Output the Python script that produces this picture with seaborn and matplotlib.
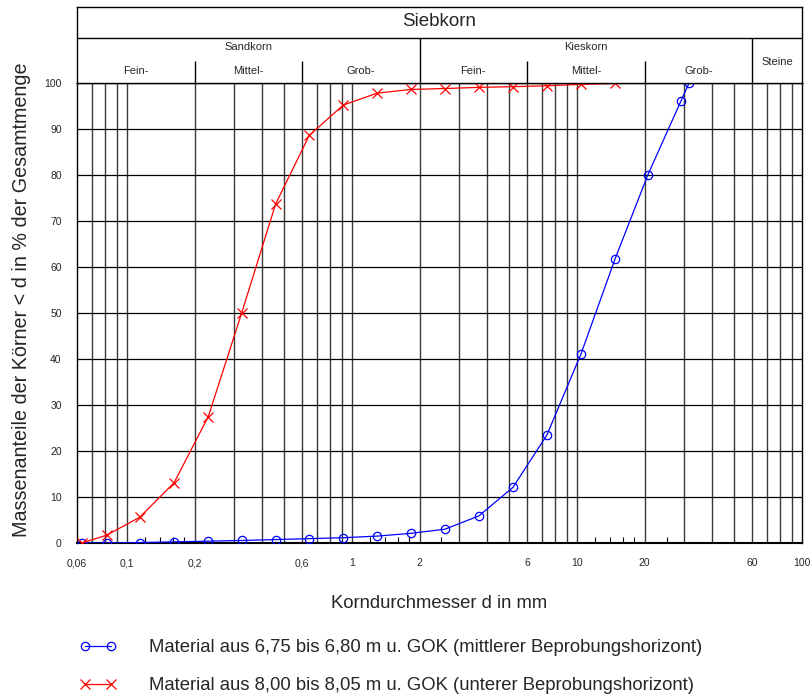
import numpy as np
import pandas as pd
import matplotlib
matplotlib.use("Agg")
import matplotlib.pyplot as plt
from matplotlib.lines import Line2D
import seaborn as sns

# ---------------- data ----------------
blue_d = [0.063, 0.0813, 0.114, 0.162, 0.23, 0.3235, 0.458, 0.646, 0.915, 1.295,
          1.83, 2.59, 3.668, 5.195, 7.356, 10.42, 14.75, 20.68, 28.99, 31.5]
blue_p = [0.0, 0.0, 0.1, 0.25, 0.4, 0.55, 0.75, 0.95, 1.15, 1.5,
          2.1, 3.0, 5.9, 12.1, 23.5, 41.1, 61.7, 80.1, 96.1, 100.0]
red_d = [0.063, 0.0813, 0.114, 0.162, 0.23, 0.3235, 0.458, 0.646, 0.915, 1.295,
         1.83, 2.59, 3.668, 5.195, 7.356, 10.42, 14.75, 16.0]
red_p = [0.0, 1.7, 5.6, 13.1, 27.5, 50.0, 73.7, 88.6, 95.2, 97.8,
         98.6, 98.8, 99.05, 99.2, 99.4, 99.7, 99.9, 100.0]

blue_label = "Material aus 6,75 bis 6,80 m u. GOK (mittlerer Beprobungshorizont)"
red_label = "Material aus 8,00 bis 8,05 m u. GOK (unterer Beprobungshorizont)"

xtick_vals = [0.06, 0.1, 0.2, 0.6, 1, 2, 6, 10, 20, 60, 100]
xtick_labels = ["0,06", "0,1", "0,2", "0,6", "1", "2", "6", "10", "20", "60", "100"]
ytick_vals = [0, 10, 20, 30, 40, 50, 60, 70, 80, 90, 100]

grid_x = [0.07, 0.08, 0.09, 0.1,
          0.2, 0.3, 0.4, 0.5, 0.6, 0.7, 0.8, 0.9, 1.0,
          2, 3, 4, 5, 6, 7, 8, 9, 10,
          20, 30, 40, 50, 60, 70, 80, 90]
minor_x = [0.12, 0.14, 0.16, 0.18, 1.2, 1.4, 1.6, 1.8, 2.5, 12, 14, 16, 18, 25]

main_groups = ["Sandkorn", "Kieskorn", "Steine"]
main_bounds = [0.06, 2, 60, 100]
sub_groups = ["Fein-", "Mittel-", "Grob-", "Fein-", "Mittel-", "Grob-"]
sub_bounds = [0.06, 0.2, 0.6, 2, 6, 20, 60]

# ---------------- style ----------------
sns.set_style("white")
plt.rcParams["font.family"] = ["Liberation Sans", "DejaVu Sans"]

W, H = 810, 695
fig = plt.figure(figsize=(W / 100, H / 100), dpi=100)

L, R, T, B = 77, 802, 83, 543
HT = 7
ax = fig.add_axes([L / W, 1 - B / H, (R - L) / W, (B - T) / H])
hax = fig.add_axes([L / W, 1 - T / H, (R - L) / W, (T - HT) / H])

ax.set_xscale("log")
ax.set_xlim(0.06, 100)
ax.set_ylim(0, 100)

# grid
ax.vlines(grid_x, 0, 100, colors="#3a3a3a", linewidth=1.0, zorder=1)
ax.hlines(ytick_vals[1:-1], 0.06, 100, colors="black", linewidth=0.9, zorder=1)

# curves
df_blue = pd.DataFrame({"d": blue_d, "p": blue_p})
df_red = pd.DataFrame({"d": red_d, "p": red_p})
sns.lineplot(data=df_blue, x="d", y="p", ax=ax, color="#0000ff", linewidth=0.9,
             marker="o", markersize=6, markerfacecolor="none",
             markeredgecolor="#0000ff", markeredgewidth=0.9,
             estimator=None, sort=False, zorder=3)
sns.lineplot(data=df_red, x="d", y="p", ax=ax, color="#ff0000", linewidth=0.9,
             marker="x", markersize=7, markeredgecolor="#ff0000", markeredgewidth=0.9,
             markevery=list(range(len(red_d) - 1)),
             estimator=None, sort=False, zorder=4)

ax.set_xticks(xtick_vals)
ax.set_xticklabels(xtick_labels)
ax.set_xticks(minor_x, minor=True)
ax.xaxis.set_minor_formatter(plt.NullFormatter())
ax.set_yticks(ytick_vals)
ax.set_yticklabels([str(v) for v in ytick_vals])
ax.tick_params(axis="x", which="major", length=0, labelsize=7.5, pad=11)
ax.tick_params(axis="x", which="minor", direction="in", length=4.5, width=0.8,
               bottom=True, top=False, color="black")
ax.tick_params(axis="y", which="major", length=0, labelsize=7.5, pad=11)
ax.tick_params(axis="y", which="minor", length=0)

for s in ax.spines.values():
    s.set_color("black")
    s.set_linewidth(1.0)
ax.spines["bottom"].set_linewidth(1.5)

ax.set_xlabel("Korndurchmesser d in mm", fontsize=13.3)
ax.set_ylabel("Massenanteile der Körner < d in % der Gesamtmenge", fontsize=14.2)
ax.xaxis.set_label_coords(0.5, -0.112)
ax.yaxis.set_label_coords(-0.063, 0.528)

# ---------------- header ----------------
hax.set_xscale("log")
hax.set_xlim(0.06, 100)
hax.set_ylim(0, 1)
hax.set_xticks([])
hax.set_yticks([])
hax.xaxis.set_minor_locator(plt.NullLocator())
for s in hax.spines.values():
    s.set_color("black")
    s.set_linewidth(1.0)

y_row = (T - 38) / (T - HT)
y_sub = (T - 61) / (T - HT)
hax.hlines(y_row, 0.06, 100, colors="black", linewidth=1.0)
hax.vlines(main_bounds[1:-1], 0, y_row, colors="black", linewidth=1.0)
hax.vlines([b for b in sub_bounds[1:-1] if b not in main_bounds], 0, y_sub,
           colors="black", linewidth=1.0)

hax.text(np.sqrt(0.06 * 100), (T - 22) / (T - HT), "Siebkorn", ha="center",
         va="center", fontsize=13.5)
for i, name in enumerate(main_groups):
    xc = np.sqrt(main_bounds[i] * main_bounds[i + 1])
    yc = (T - 62) / (T - HT) if name == "Steine" else (T - 47) / (T - HT)
    hax.text(xc, yc, name, ha="center", va="center", fontsize=8)
for i, name in enumerate(sub_groups):
    xc = np.sqrt(sub_bounds[i] * sub_bounds[i + 1])
    hax.text(xc, (T - 70.5) / (T - HT), name, ha="center", va="center", fontsize=8)

# ---------------- legend ----------------
handles = [
    Line2D([], [], color="#0000ff", linewidth=0.9, marker="o", markersize=6,
           markerfacecolor="none", markeredgecolor="#0000ff", markeredgewidth=0.9),
    Line2D([], [], color="#ff0000", linewidth=0.9, marker="x", markersize=7,
           markeredgecolor="#ff0000", markeredgewidth=0.9),
]
fig.legend(handles, [blue_label, red_label], loc="upper left",
           bbox_to_anchor=(79 / W, 1 - 639 / H), frameon=False, fontsize=13.3,
           numpoints=2, handlelength=2.05, handletextpad=1.75, labelspacing=1.15,
           borderpad=0, borderaxespad=0)

fig.savefig("out.png", dpi=100)
